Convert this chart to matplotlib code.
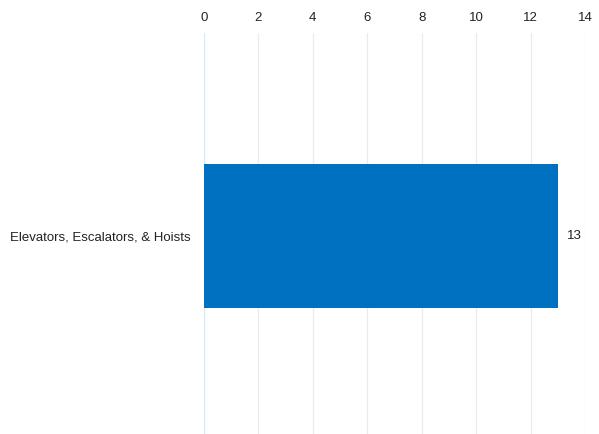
import matplotlib.pyplot as plt

categories = ["Elevators, Escalators, & Hoists"]
values = [13]
x_ticks = [0, 2, 4, 6, 8, 10, 12, 14]

plt.rcParams['font.family'] = ['Liberation Sans', 'DejaVu Sans']

fig = plt.figure(figsize=(5.99, 4.34), dpi=100)
ax = fig.add_axes([0.3406, 0.0, 0.636, 0.924])

bars = ax.barh(categories, values, height=0.36, color='#0070C0', zorder=3)
ax.set_xlim(0, 14)
ax.set_ylim(-0.494, 0.506)
ax.set_xticks(x_ticks)
ax.xaxis.tick_top()
ax.tick_params(axis='x', length=0, pad=6.5, labelsize=9.5, colors='#222222')
ax.tick_params(axis='y', length=0, pad=9.5, labelsize=9.5, colors='#222222')

for t in x_ticks:
    ax.axvline(t, color='#d5e9f7' if t == 0 else '#ebebeb', lw=0.9, zorder=1)

for b, v in zip(bars, values):
    ax.text(b.get_width() + 0.33, b.get_y() + b.get_height() / 2, str(v),
            va='center', ha='left', fontsize=9.5, color='#222222')

for s in ax.spines.values():
    s.set_visible(False)

fig.savefig('out.png', dpi=100)
